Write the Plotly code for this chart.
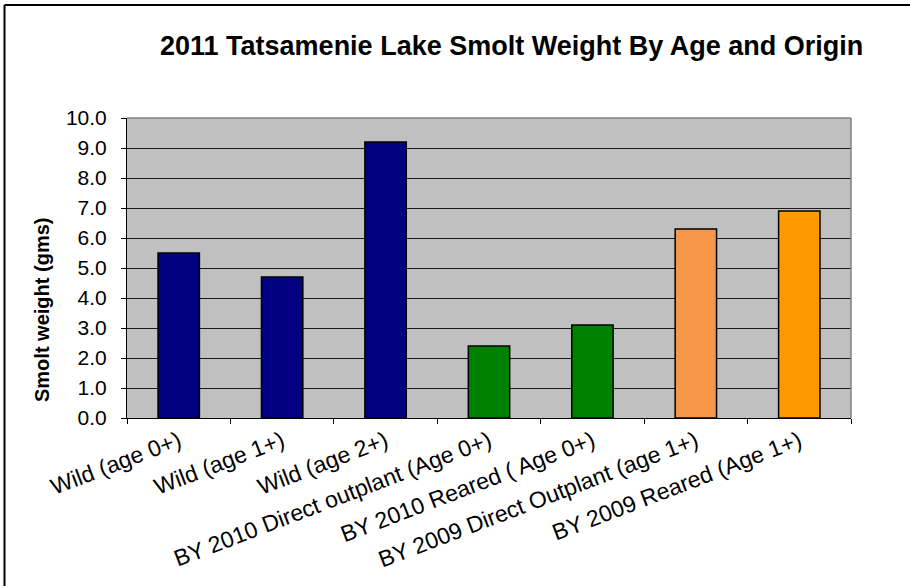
import plotly.graph_objects as go

# Smolt groups and mean weight (grams)
categories = [
    "Wild (age 0+)",
    "Wild (age 1+)",
    "Wild (age 2+)",
    "BY 2010 Direct outplant (Age 0+)",
    "BY 2010 Reared ( Age 0+)",
    "BY 2009 Direct Outplant (age 1+)",
    "BY 2009 Reared (Age 1+)",
]
weights = [5.5, 4.7, 9.2, 2.4, 3.1, 6.3, 6.9]
y_ticks = [0, 1, 2, 3, 4, 5, 6, 7, 8, 9, 10]

bar_colors = ["#000080", "#000080", "#000080", "#008000", "#008000", "#F79646", "#FF9900"]

W, H = 910, 586
L, R, T, B = 127, 59, 118, 168
pw, ph = W - L - R, H - T - B

def px_x(x):
    return (x - L) / pw

def px_y(y):
    return (H - B - y) / ph

font = "Liberation Sans, Arial, sans-serif"

fig = go.Figure(
    go.Bar(
        x=categories,
        y=weights,
        marker=dict(color=bar_colors, line=dict(color="black", width=1.5)),
        width=0.4,
    )
)

fig.update_layout(
    width=W,
    height=H,
    margin=dict(l=L, r=R, t=T, b=B, pad=0),
    paper_bgcolor="white",
    plot_bgcolor="#C0C0C0",
    showlegend=False,
    font=dict(family=font, color="black"),
)

fig.update_xaxes(
    tickangle=-21,
    tickfont=dict(size=23, family=font, color="black"),
    showline=True,
    linecolor="black",
    linewidth=1,
    ticks="outside",
    ticklen=5,
    tickcolor="black",
    tickson="boundaries",
    showgrid=False,
)

fig.update_yaxes(
    range=[0, 10],
    tickvals=y_ticks,
    tickformat=".1f",
    tickfont=dict(size=21, family=font, color="black"),
    ticklabelstandoff=10,
    showline=True,
    linecolor="black",
    linewidth=1,
    ticks="outside",
    ticklen=5,
    tickcolor="black",
    showgrid=True,
    gridcolor="#1a1a1a",
    gridwidth=1,
    zeroline=False,
)

# Chart title
fig.add_annotation(
    text="<b>2011 Tatsamenie Lake Smolt Weight By Age and Origin</b>",
    xref="paper", yref="paper",
    x=px_x(512), y=px_y(46),
    xanchor="center", yanchor="middle",
    showarrow=False,
    font=dict(size=27, family=font, color="black"),
)

# Y-axis title
fig.add_annotation(
    text="<b>Smolt weight (gms)</b>",
    xref="paper", yref="paper",
    x=px_x(42), y=px_y(310),
    xanchor="center", yanchor="middle",
    textangle=-90,
    showarrow=False,
    font=dict(size=20, family=font, color="black"),
)

# Plot-area frame (top and right) in grey
fig.add_shape(type="line", xref="paper", yref="paper",
              x0=0, x1=1, y0=1, y1=1, line=dict(color="#808080", width=1.5))
fig.add_shape(type="line", xref="paper", yref="paper",
              x0=1, x1=1, y0=0, y1=1, line=dict(color="#808080", width=1.5))

# Outer chart frame (left and top edges)
fig.add_shape(type="line", xref="paper", yref="paper",
              x0=px_x(4.5), x1=px_x(4.5), y0=px_y(600), y1=px_y(5),
              line=dict(color="black", width=2))
fig.add_shape(type="line", xref="paper", yref="paper",
              x0=px_x(4.5), x1=px_x(920), y0=px_y(5), y1=px_y(5),
              line=dict(color="black", width=2))

fig.write_html("out.html")
